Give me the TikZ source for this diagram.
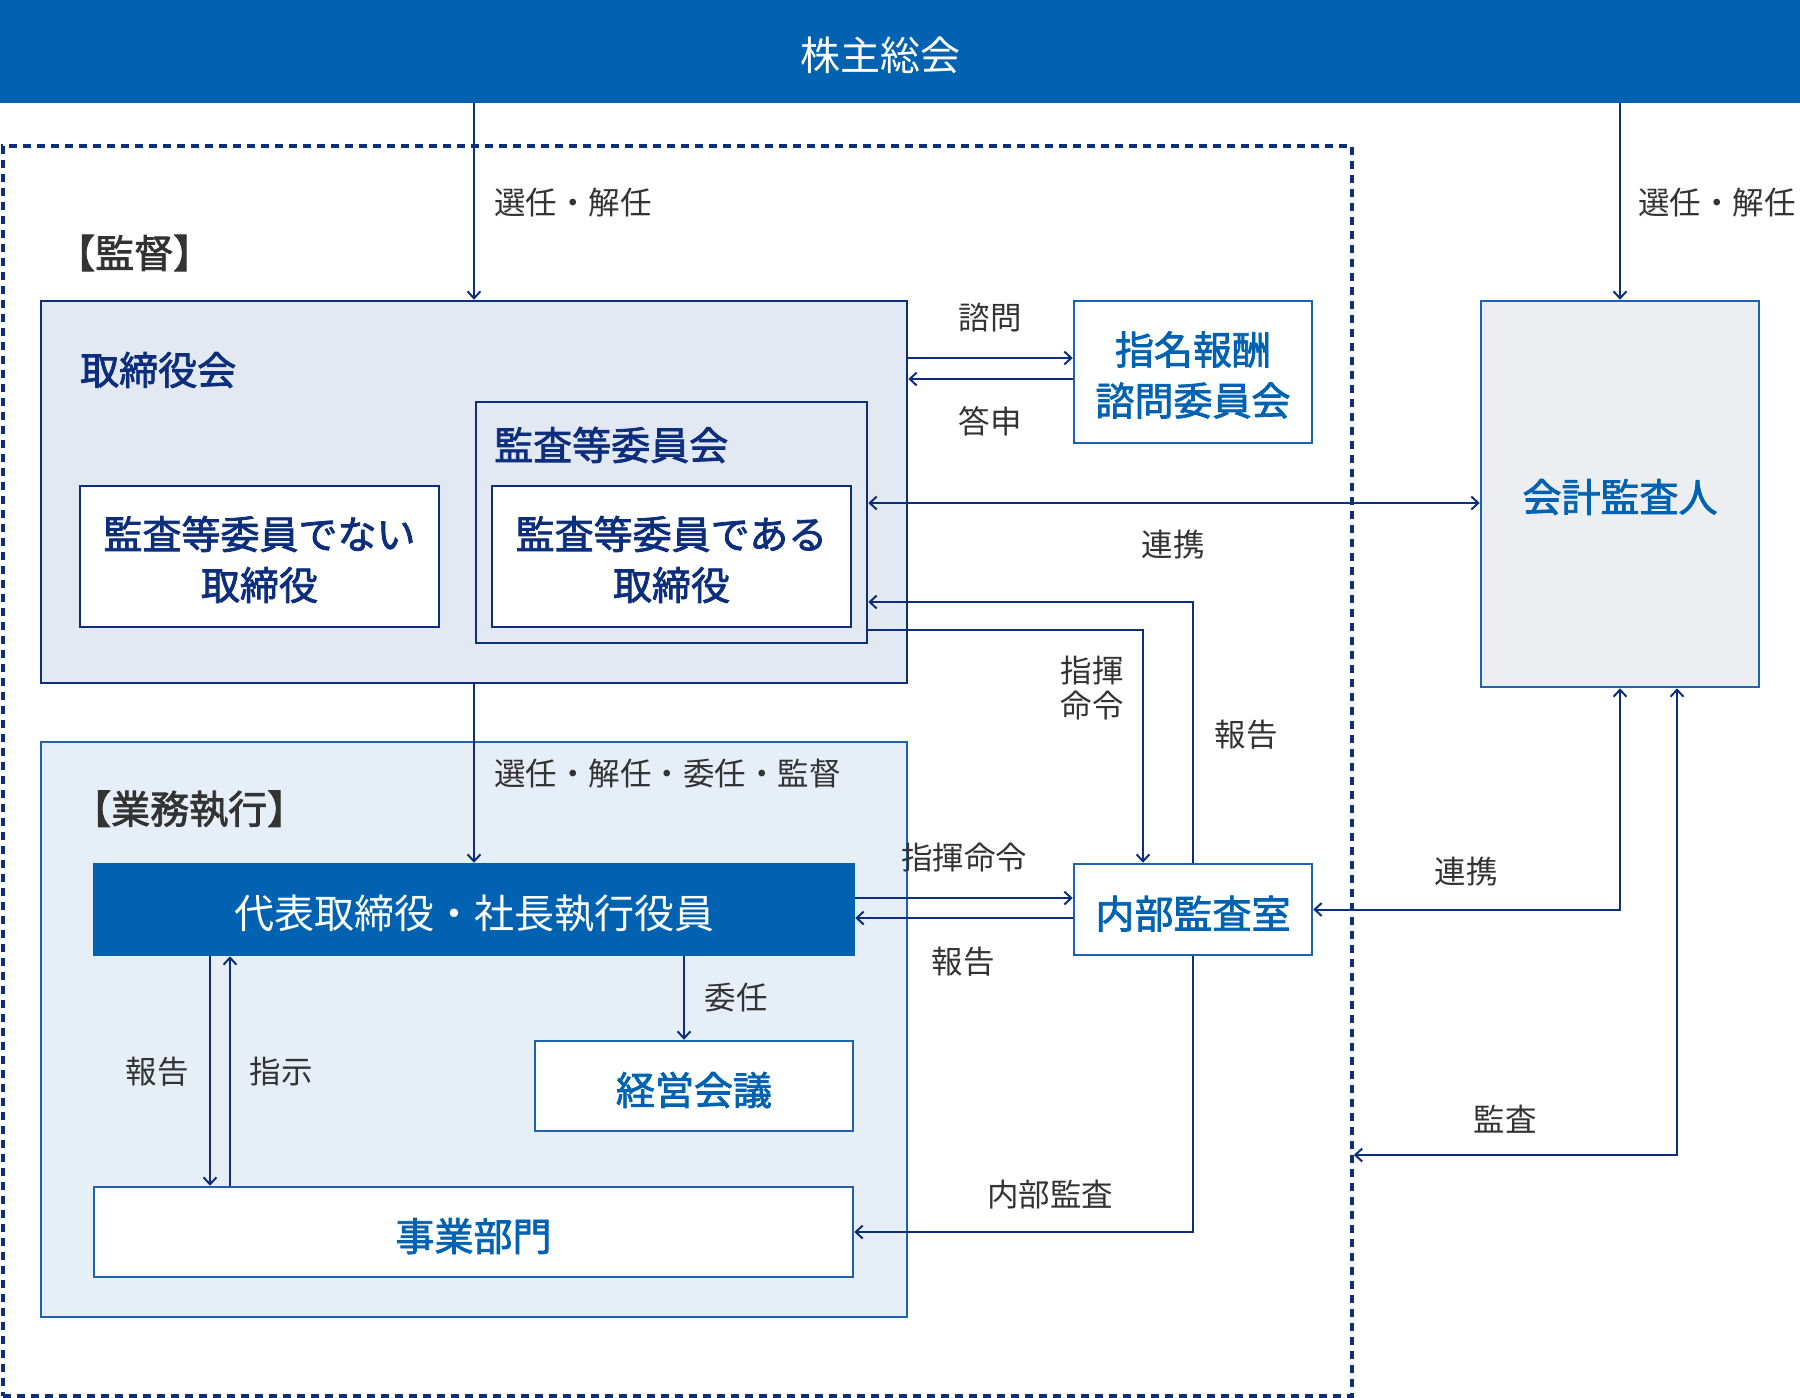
\documentclass[tikz,border=0pt]{standalone}
\usepackage{fontspec}
\setmainfont{Noto Sans CJK JP}
\newfontfamily\jpmed[FakeBold=2]{Noto Sans CJK JP}
\usetikzlibrary{arrows.meta}
\definecolor{navy}{HTML}{0D2E7C}
\definecolor{mblue}{HTML}{0062B1}
\definecolor{bblue}{HTML}{1C62AC}
\definecolor{boardfill}{HTML}{E3E9F2}
\definecolor{execfill}{HTML}{E6EEF8}
\definecolor{audfill}{HTML}{ECEEF1}
\definecolor{lblgray}{HTML}{333333}
\begin{document}
\begin{tikzpicture}[x=1pt,y=-1pt,
  box/.style={draw, line width=2.5pt, inner sep=0pt, align=center},
  lowtext/.style={execute at begin node={\rule{0pt}{41pt}}},
  navybox/.style={box, draw=navy, fill=white},
  navytext/.style={text=navy, align=center, inner sep=0pt, yshift=-3pt, font=\fontsize{39}{51}\selectfont\jpmed},
  bluebox/.style={box, lowtext, draw=bblue, text=mblue, fill=white, font=\fontsize{39}{51}\selectfont\jpmed},
  lbl/.style={text=lblgray, inner sep=0pt, font=\fontsize{31.5}{35}\selectfont},
  sect/.style={text=lblgray, inner sep=0pt, anchor=west, font=\fontsize{39}{44}\selectfont\jpmed},
  title/.style={text=navy, inner sep=0pt, anchor=west, font=\fontsize{39}{46}\selectfont\jpmed},
  conn/.style={draw=navy, line width=2pt},
  tip/.tip={Straight Barb[length=7pt,width=13pt]}
]
\useasboundingbox (0,0) rectangle (1800,1398);

% general meeting banner
\node[fill=mblue, minimum width=1800pt, minimum height=103pt, inner sep=0pt,
  label={[text=white, xshift=-20pt, yshift=-3.5pt, font=\fontsize{40}{46}\selectfont]center:株主総会}] (gm) at (900,51.5) {};

% dashed scope
\node[draw=navy, line width=3.5pt, dash pattern=on 8pt off 6pt, minimum width=1349pt, minimum height=1250pt, inner sep=0pt] (scope) at (677.5,771) {};

\node[sect] (supervise) at (56,253) {【監督】};

% board
\node[box, draw=navy, fill=boardfill, minimum width=866pt, minimum height=382pt] (board) at (474,492) {};
\node[title] (boardtitle) at (80,370) {取締役会};
\node[navybox, minimum width=359pt, minimum height=141pt,
  label={[navytext]center:監査等委員でない\\取締役}] (notaudit) at (259.5,556.5) {};
\node[box, draw=navy, fill=boardfill, minimum width=391pt, minimum height=241pt] (auditcom) at (671.5,522.5) {};
\node[title] (auditcomtitle) at (494,445) {監査等委員会};
\node[navybox, minimum width=359pt, minimum height=141pt,
  label={[navytext]center:監査等委員である\\取締役}] (isaudit) at (671.5,556.5) {};

% nomination committee
\node[box, draw=bblue, fill=white, minimum width=238pt, minimum height=142pt,
  label={[navytext, text=mblue]center:指名報酬\\諮問委員会}] (nom) at (1193,372) {};

% accounting auditor
\node[box, draw=bblue, fill=audfill, minimum width=278pt, minimum height=386pt,
  label={[text=mblue, inner sep=0pt, yshift=-3pt, font=\fontsize{39}{46}\selectfont\jpmed]center:会計監査人}] (auditor) at (1620,494) {};

% execution
\node[box, draw=bblue, fill=execfill, minimum width=866pt, minimum height=575pt] (exec) at (474,1029.5) {};
\node[sect] (execlabel) at (72,809) {【業務執行】};
\node[box, draw=mblue, fill=mblue, text=white, minimum width=760pt, minimum height=91pt,
  execute at begin node={\rule{0pt}{42pt}}, font=\fontsize{40}{50}\selectfont] (ceo) at (474,909.5) {代表取締役・社長執行役員};
\node[bluebox, minimum width=238pt, minimum height=91pt] (ia) at (1193,909.5) {内部監査室};
\node[bluebox, minimum width=318pt, minimum height=90pt] (mgmt) at (694,1086) {経営会議};
\node[bluebox, minimum width=759pt, minimum height=90pt] (biz) at (473.5,1232) {事業部門};

% connectors
\draw[conn,-tip] (gm.south -| board.north) -- (board.north);
\node[lbl, anchor=west] (l1) at (494,203) {選任・解任};
\draw[conn,-tip] (gm.south -| auditor.north) -- (auditor.north);
\node[lbl, anchor=west] (l2) at (1638,203) {選任・解任};

\coordinate (q1) at ([yshift=14pt]nom.west);
\coordinate (q2) at ([yshift=-7pt]nom.west);
\draw[conn,-tip] (q1 -| board.east) -- (q1);
\draw[conn,-tip] (q2) -- (q2 -| board.east);
\node[lbl] (l3) at (990,318) {諮問};
\node[lbl] (l4) at (990,421) {答申};

\coordinate (r1) at ([yshift=-9pt]auditor.west);
\draw[conn,tip-tip] (r1 -| auditcom.east) -- (r1);
\node[lbl] (l5) at (1173,545) {連携};

\coordinate (r2) at ([yshift=-79.5pt]auditcom.east);
\draw[conn,-tip] (ia.north) |- (r2);
\node[lbl] (l6) at (1246,735) {報告};

\coordinate (r3) at ([yshift=-107.5pt]auditcom.east);
\draw[conn,-tip] (r3) -| ([xshift=-50pt]ia.north);
\node[lbl, align=center] (l7) at (1092,688) {指揮\\命令};

\draw[conn,-tip] (board.south) -- (ceo.north);
\node[lbl, anchor=west] (l8) at (494,774) {選任・解任・委任・監督};

\coordinate (s1) at ([yshift=11.5pt]ia.west);
\coordinate (s2) at ([yshift=-8.5pt]ia.west);
\draw[conn,-tip] (s1 -| ceo.east) -- (s1);
\draw[conn,-tip] (s2) -- (s2 -| ceo.east);
\node[lbl] (l9) at (964,858) {指揮命令};
\node[lbl] (l10) at (963,962) {報告};

\draw[conn,tip-tip] (auditor.south) |- (ia.east);
\node[lbl] (l11) at (1466,872) {連携};

\coordinate (t1) at ([xshift=57pt]auditor.south);
\coordinate (t2) at ([yshift=-384pt]scope.east);
\draw[conn,tip-tip] (t2) -| (t1);
\node[lbl] (l12) at (1505,1119) {監査};

\coordinate (u1) at ([xshift=-10pt]mgmt.north);
\draw[conn,-tip] (u1 |- ceo.south) -- (u1);
\node[lbl] (l13) at (736,998) {委任};

\coordinate (v1) at ([xshift=-263.5pt]biz.north);
\coordinate (v2) at ([xshift=-243.5pt]biz.north);
\draw[conn,-tip] (v1 |- ceo.south) -- (v1);
\draw[conn,-tip] (v2) -- (v2 |- ceo.south);
\node[lbl] (l14) at (157,1072) {報告};
\node[lbl] (l15) at (281,1072) {指示};

\draw[conn,-tip] (ia.south) |- (biz.east);
\node[lbl] (l16) at (1050,1195) {内部監査};
\end{tikzpicture}
\end{document}
